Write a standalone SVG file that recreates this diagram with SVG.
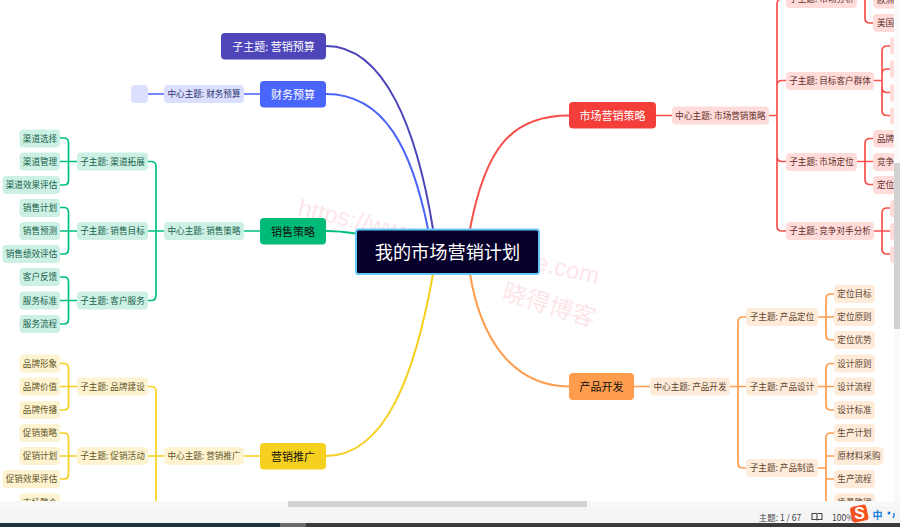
<svg xmlns="http://www.w3.org/2000/svg" width="900" height="527" viewBox="0 0 900 527">
<style>
text{font-family:"Noto Sans CJK SC","Liberation Sans",sans-serif;text-anchor:middle;dominant-baseline:central}
.s{font-size:8.6px;transform:translateY(-1px)}.b{font-size:11px;transform:translateY(-.5px)}
.c{fill:none;stroke-width:1.7}
.m{stroke-width:2}
.cr{stroke:#f9504c}.cv{stroke:#ff9d4d}.cy{stroke:#f6d01e}.cg{stroke:#00c080}.cb{stroke:#4a65fa}.ci{stroke:#4d45b9}
.pr{fill:#ffdcd9}.tr{fill:#5f2d2a}
.po{fill:#ffebda}.to{fill:#60452e}
.py{fill:#fdf3d0}.ty{fill:#5f5325}
.pg{fill:#ccf1e4}.tg{fill:#17604a}
.pb{fill:#dbe0fe}.tb{fill:#2e3270}
.w{fill:#fff}.d{fill:#111}
.wm{fill:#fde6e9;font-family:"Liberation Sans",sans-serif;text-anchor:start;dominant-baseline:auto}
</style>
<rect width="900" height="527" fill="#fff"/>

<g id="watermark">
<text class="wm" font-size="24" transform="translate(297 215) rotate(13)">https://www.pythonthree.com</text>
<text class="wm" font-size="24" style="font-family:'Noto Sans CJK SC',sans-serif" transform="translate(501 299) rotate(17)">晓得博客</text>
</g>

<g id="connectors">
<path class="c m cr" d="M569 115.500C510 115.500 485 150 470 229"/>
<path class="c m cv" d="M470 274C480 335 510 386 569 386.500"/>
<path class="c m cy" d="M433 274C415 375 385 456 326 456"/>
<path class="c m cb" d="M428 229C412 150 385 94 326 94"/>
<path class="c m ci" d="M433 229C417 130 385 46 326 46"/>
<path class="c m cg" d="M326 231C338 231 346 232 356 233.500"/>

<path class="c cr" d="M656 115.500H672M769 115.500H777M777 115.500V4Q777 -1 782 -1H786M777 115.500V85.500Q777 80.500 782 80.500H786M777 115.500V156.500Q777 161.500 782 161.500H786M777 115.500V226Q777 231 782 231H786"/>
<path class="c cr" d="M857 -1H865M865 -5V18Q865 23 870 23H873"/>
<path class="c cr" d="M874 80.500H882M890 46H887Q882 46 882 51V110.500Q882 115.500 887 115.500H890M882 74Q882 69 887 69H890M882 87.500Q882 92.500 887 92.500H890"/>
<path class="c cr" d="M857 161.500H873M873 138.500H870Q865 138.500 865 143.500V179.500Q865 184.500 870 184.500H873"/>
<path class="c cr" d="M874 231H890M890 208H887Q882 208 882 213V249Q882 254 887 254H890"/>

<path class="c cv" d="M634 386.500H650M730 386.500H746M738 386.500V322Q738 317 743 317H746M738 386.500V463Q738 468 743 468H746"/>
<path class="c cv" d="M818 317H834M834 294H831Q826 294 826 299V335Q826 340 831 340H834"/>
<path class="c cv" d="M818 386.500H834M834 363.500H831Q826 363.500 826 368.500V405Q826 410 831 410H834"/>
<path class="c cv" d="M818 468H826M834 433H831Q826 433 826 438V505M826 456H834M826 479H834"/>

<path class="c cb" d="M148 94H164M244 94H260"/>

<path class="c cg" d="M260 231H244M164 231H148M151 161.500Q156 161.500 156 166.500V295.500Q156 300.500 151 300.500H148M148 161.500H151"/>
<path class="c cg" d="M77 161.500H60M60 138H64Q68.500 138 68.500 143V180Q68.500 185 64 185H60"/>
<path class="c cg" d="M77 231H60M60 207.500H64Q68.500 207.500 68.500 212.500V249Q68.500 254 64 254H60"/>
<path class="c cg" d="M77 300.500H60M60 277H64Q68.500 277 68.500 282V319Q68.500 324 64 324H60"/>

<path class="c cy" d="M260 456H244M164 456H148M148 386.500H151Q156 386.500 156 391.500V505"/>
<path class="c cy" d="M77 386.500H60M60 363.500H64Q68.500 363.500 68.500 368.500V405Q68.500 410 64 410H60"/>
<path class="c cy" d="M77 456H60M60 433H64Q68.500 433 68.500 438V474Q68.500 479 64 479H60"/>
</g>

<g id="root"><rect x="356" y="229.500" width="183" height="44.500" rx="2.500" fill="#06002a" stroke="#64c8f8" stroke-width="2"/><text x="447.500" y="250.500" font-size="18.200" fill="#fff">我的市场营销计划</text></g>

<g id="n-yusuan"><rect x="221" y="33" width="105" height="26.500" rx="4" fill="#4d45b9"/><text class="b w" x="273.500" y="46">子主题: 营销预算</text></g>
<g id="n-caiwu"><rect x="260" y="81" width="66" height="26.500" rx="4" fill="#4a65fa"/><text class="b w" x="293" y="94">财务预算</text></g>
<g id="n-caiwu-c"><rect class="pb" x="164" y="85" width="80" height="18" rx="4"/><text class="s tb" x="204" y="94">中心主题: 财务预算</text></g>
<g id="n-blank"><rect class="pb" x="131" y="85" width="17" height="18" rx="4"/></g>

<g id="n-shichang"><rect x="569" y="102" width="87" height="26.500" rx="4" fill="#f43e3a"/><text class="b w" x="612.500" y="115">市场营销策略</text></g>
<g id="n-sc-c"><rect class="pr" x="672" y="106.500" width="97" height="18" rx="4"/><text class="s tr" x="720.500" y="115.500">中心主题: 市场营销策略</text></g>
<g id="n-sc1"><rect class="pr" x="786" y="-10" width="71" height="18" rx="4"/><text class="s tr" x="821.500" y="-1">子主题: 市场分析</text></g>
<g id="n-sc2"><rect class="pr" x="786" y="72" width="88" height="18" rx="4"/><text class="s tr" x="830" y="80.500">子主题: 目标客户群体</text></g>
<g id="n-sc3"><rect class="pr" x="786" y="153" width="71" height="18" rx="4"/><text class="s tr" x="821.500" y="161.500">子主题: 市场定位</text></g>
<g id="n-sc4"><rect class="pr" x="786" y="222" width="88" height="18" rx="4"/><text class="s tr" x="830" y="231">子主题: 竞争对手分析</text></g>
<g id="n-sc1a"><rect class="pr" x="873" y="-9" width="40" height="17.500" rx="4"/><text class="s tr" x="885.500" y="0">欧洲</text></g>
<g id="n-sc1b"><rect class="pr" x="873" y="14" width="40" height="18" rx="4"/><text class="s tr" x="885.500" y="23">美国</text></g>
<g id="n-sc2a"><rect class="pr" x="890" y="37" width="30" height="18" rx="4"/></g>
<g id="n-sc2b"><rect class="pr" x="890" y="60" width="30" height="18" rx="4"/></g>
<g id="n-sc2c"><rect class="pr" x="890" y="84" width="30" height="18" rx="4"/></g>
<g id="n-sc2d"><rect class="pr" x="890" y="107" width="30" height="18" rx="4"/></g>
<g id="n-sc3a"><rect class="pr" x="873" y="130" width="40" height="17.500" rx="4"/><text class="s tr" x="885.500" y="138.500">品牌</text></g>
<g id="n-sc3b"><rect class="pr" x="873" y="153" width="40" height="18" rx="4"/><text class="s tr" x="885.500" y="161.500">竞争</text></g>
<g id="n-sc3c"><rect class="pr" x="873" y="176" width="40" height="18" rx="4"/><text class="s tr" x="885.500" y="184.500">定位</text></g>
<g id="n-sc4a"><rect class="pr" x="890" y="200" width="30" height="17.500" rx="4"/></g>
<g id="n-sc4b"><rect class="pr" x="890" y="223" width="30" height="17.500" rx="4"/></g>
<g id="n-sc4c"><rect class="pr" x="890" y="246" width="30" height="17.500" rx="4"/></g>

<g id="n-xiaoshou"><rect x="260" y="218" width="66" height="26.500" rx="4" fill="#00bb78"/><text class="b d" x="293" y="231">销售策略</text></g>
<g id="n-xs-c"><rect class="pg" x="164" y="222" width="80" height="18" rx="4"/><text class="s tg" x="204" y="231">中心主题: 销售策略</text></g>
<g id="n-xs1"><rect class="pg" x="77" y="152.500" width="71" height="18" rx="4"/><text class="s tg" x="112.500" y="161.500">子主题: 渠道拓展</text></g>
<g id="n-xs2"><rect class="pg" x="77" y="222" width="71" height="18" rx="4"/><text class="s tg" x="112.500" y="231">子主题: 销售目标</text></g>
<g id="n-xs3"><rect class="pg" x="77" y="291.500" width="71" height="18" rx="4"/><text class="s tg" x="112.500" y="300.500">子主题: 客户服务</text></g>
<g id="n-xs1a"><rect class="pg" x="19.500" y="129.500" width="40.500" height="18" rx="4"/><text class="s tg" x="40" y="138.500">渠道选择</text></g>
<g id="n-xs1b"><rect class="pg" x="19.500" y="152.500" width="40.500" height="18" rx="4"/><text class="s tg" x="40" y="161.500">渠道管理</text></g>
<g id="n-xs1c"><rect class="pg" x="2.500" y="176" width="57.500" height="18" rx="4"/><text class="s tg" x="31.500" y="185">渠道效果评估</text></g>
<g id="n-xs2a"><rect class="pg" x="19.500" y="199" width="40.500" height="18" rx="4"/><text class="s tg" x="40" y="208">销售计划</text></g>
<g id="n-xs2b"><rect class="pg" x="19.500" y="222" width="40.500" height="18" rx="4"/><text class="s tg" x="40" y="231">销售预测</text></g>
<g id="n-xs2c"><rect class="pg" x="2.500" y="245" width="57.500" height="18" rx="4"/><text class="s tg" x="31.500" y="254">销售绩效评估</text></g>
<g id="n-xs3a"><rect class="pg" x="19.500" y="268" width="40.500" height="18" rx="4"/><text class="s tg" x="40" y="277">客户反馈</text></g>
<g id="n-xs3b"><rect class="pg" x="19.500" y="291.500" width="40.500" height="18" rx="4"/><text class="s tg" x="40" y="300.500">服务标准</text></g>
<g id="n-xs3c"><rect class="pg" x="19.500" y="315" width="40.500" height="18" rx="4"/><text class="s tg" x="40" y="324">服务流程</text></g>

<g id="n-tuiguang"><rect x="260" y="443" width="66" height="26.500" rx="4" fill="#f6d01e"/><text class="b d" x="293" y="456">营销推广</text></g>
<g id="n-tg-c"><rect class="py" x="164" y="447" width="80" height="18" rx="4"/><text class="s ty" x="204" y="456">中心主题: 营销推广</text></g>
<g id="n-tg1"><rect class="py" x="77" y="377.500" width="71" height="18" rx="4"/><text class="s ty" x="112.500" y="386.500">子主题: 品牌建设</text></g>
<g id="n-tg2"><rect class="py" x="77" y="447" width="71" height="18" rx="4"/><text class="s ty" x="112.500" y="456">子主题: 促销活动</text></g>
<g id="n-tg1a"><rect class="py" x="19.500" y="354.500" width="40.500" height="18" rx="4"/><text class="s ty" x="40" y="363.500">品牌形象</text></g>
<g id="n-tg1b"><rect class="py" x="19.500" y="377.500" width="40.500" height="18" rx="4"/><text class="s ty" x="40" y="386.500">品牌价值</text></g>
<g id="n-tg1c"><rect class="py" x="19.500" y="401" width="40.500" height="18" rx="4"/><text class="s ty" x="40" y="410">品牌传播</text></g>
<g id="n-tg2a"><rect class="py" x="19.500" y="424" width="40.500" height="18" rx="4"/><text class="s ty" x="40" y="433">促销策略</text></g>
<g id="n-tg2b"><rect class="py" x="19.500" y="447" width="40.500" height="18" rx="4"/><text class="s ty" x="40" y="456">促销计划</text></g>
<g id="n-tg2c"><rect class="py" x="2.500" y="470" width="57.500" height="18" rx="4"/><text class="s ty" x="31.500" y="479">促销效果评估</text></g>
<g id="n-tg2d"><rect class="py" x="19.500" y="493.500" width="40.500" height="18" rx="4"/><text class="s ty" x="40" y="502.500">市场整合</text></g>

<g id="n-chanpin"><rect x="569" y="373" width="65" height="27" rx="4" fill="#ff9d4d"/><text class="b d" x="601.500" y="386.500">产品开发</text></g>
<g id="n-cp-c"><rect class="po" x="650" y="377.500" width="80" height="18" rx="4"/><text class="s to" x="690" y="386.500">中心主题: 产品开发</text></g>
<g id="n-cp1"><rect class="po" x="746" y="308" width="72" height="18" rx="4"/><text class="s to" x="782" y="317">子主题: 产品定位</text></g>
<g id="n-cp2"><rect class="po" x="746" y="377.500" width="72" height="18" rx="4"/><text class="s to" x="782" y="386.500">子主题: 产品设计</text></g>
<g id="n-cp3"><rect class="po" x="746" y="459" width="72" height="18" rx="4"/><text class="s to" x="782" y="468">子主题: 产品制造</text></g>
<g id="n-cp1a"><rect class="po" x="834" y="285" width="41" height="18" rx="4"/><text class="s to" x="854.500" y="294">定位目标</text></g>
<g id="n-cp1b"><rect class="po" x="834" y="308" width="41" height="18" rx="4"/><text class="s to" x="854.500" y="317">定位原则</text></g>
<g id="n-cp1c"><rect class="po" x="834" y="331" width="41" height="18" rx="4"/><text class="s to" x="854.500" y="340">定位优势</text></g>
<g id="n-cp2a"><rect class="po" x="834" y="354.500" width="41" height="18" rx="4"/><text class="s to" x="854.500" y="363.500">设计原则</text></g>
<g id="n-cp2b"><rect class="po" x="834" y="377.500" width="41" height="18" rx="4"/><text class="s to" x="854.500" y="386.500">设计流程</text></g>
<g id="n-cp2c"><rect class="po" x="834" y="401" width="41" height="18" rx="4"/><text class="s to" x="854.500" y="410">设计标准</text></g>
<g id="n-cp3a"><rect class="po" x="834" y="424" width="41" height="18" rx="4"/><text class="s to" x="854.500" y="433">生产计划</text></g>
<g id="n-cp3b"><rect class="po" x="834" y="447" width="49.500" height="18" rx="4"/><text class="s to" x="859" y="456">原材料采购</text></g>
<g id="n-cp3c"><rect class="po" x="834" y="470" width="41" height="18" rx="4"/><text class="s to" x="854.500" y="479">生产流程</text></g>
<g id="n-cp3d"><rect class="po" x="834" y="493.500" width="41" height="18" rx="4"/><text class="s to" x="854.500" y="502.500">质量管理</text></g>

<rect x="894" y="0" width="6" height="501" fill="#fafafa"/>
<rect x="894" y="163" width="6" height="166" fill="#d2d2d2"/>
<rect x="0" y="501" width="900" height="6" fill="#f8f8f8"/>
<rect x="288" y="501" width="299" height="6" fill="#d4d4d4"/>
<rect x="0" y="507" width="900" height="16" fill="#f5f5f5"/>
<rect x="0" y="523" width="280" height="4" fill="#1c3240"/>
<rect x="280" y="523" width="26" height="4" fill="#6a6a6a"/>
<rect x="306" y="523" width="594" height="4" fill="#3a3a3a"/>

<g id="status">
<text x="780" y="516.500" font-size="8.500" fill="#444">主题: 1 / 67</text>
<path d="M812 513.500h4.500q.5 0 .5 1v6M822 513.500h-4.500M822 513.500v6h-5h-5v-6" fill="none" stroke="#444" stroke-width="1.100"/>
<text x="843" y="517" font-size="8.500" fill="#444">100%</text>
<rect x="851" y="505.500" width="16.500" height="16" rx="3" fill="#f4511e" transform="rotate(-12 859.500 513.500)"/>
<text x="859.500" y="513.500" font-size="16" font-weight="700" fill="#fff" style="font-family:'Liberation Sans',sans-serif">S</text>
<text x="877.500" y="514.500" font-size="10" font-weight="700" fill="#1a7fe0">中</text>
<circle cx="889" cy="513" r="1.500" fill="#1a7fe0"/>
<path d="M894 513v3l-1 2" fill="none" stroke="#1a7fe0" stroke-width="1.500"/>
</g>
</svg>
